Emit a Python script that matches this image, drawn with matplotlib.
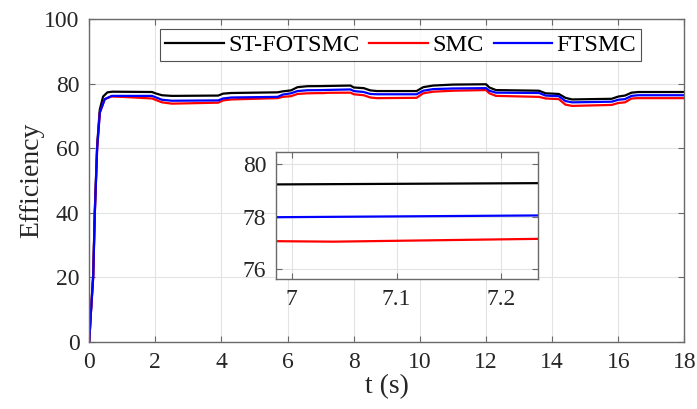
import numpy as np
import matplotlib
matplotlib.use("Agg")
import matplotlib.pyplot as plt

plt.rcParams['font.family'] = ['Liberation Serif', 'DejaVu Serif']

# efficiency traces of the three controllers (time in s, efficiency)
t_st = [0, 0.05, 0.12, 0.17, 0.24, 0.32, 0.42, 0.55, 0.7, 1.9, 2.0, 2.2, 2.5, 3.9, 4.05, 4.3,
        5.7, 5.85, 6.1, 6.3, 6.6, 6.98, 7.24, 7.9, 8.0, 8.3, 8.5, 8.7, 9.9, 10.1, 10.4, 11.0,
        12.0, 12.1, 12.3, 13.6, 13.8, 14.2, 14.4, 14.6, 15.8, 16.0, 16.2, 16.4, 16.6, 18]
eff_st = [0, 9, 21, 41, 61, 72, 76, 77.3, 77.5, 77.4, 77.0, 76.4, 76.2, 76.3, 76.9, 77.1,
          77.3, 77.6, 77.9, 78.9, 79.2, 79.23, 79.28, 79.4, 78.8, 78.6, 77.9, 77.7, 77.7, 78.9, 79.4, 79.7,
          79.8, 78.8, 78.0, 77.8, 77.0, 76.8, 75.6, 75.1, 75.3, 76.0, 76.3, 77.2, 77.4, 77.4]

t_smc = [0, 0.05, 0.12, 0.17, 0.24, 0.32, 0.47, 0.68, 1.0, 1.9, 2.0, 2.2, 2.5, 3.9, 4.05, 4.3,
         5.7, 5.85, 6.1, 6.3, 6.6, 6.98, 7.04, 7.24, 7.9, 8.0, 8.3, 8.5, 8.7, 9.9, 10.1, 10.4, 11.0,
         12.0, 12.1, 12.3, 13.6, 13.8, 14.2, 14.4, 14.6, 15.8, 16.0, 16.2, 16.4, 16.6, 18]
eff_smc = [0, 9, 20, 40, 60, 71, 75.2, 76.0, 75.9, 75.4, 75.0, 74.2, 73.8, 74.1, 74.8, 75.1,
           75.5, 75.9, 76.1, 76.8, 77.0, 77.07, 77.05, 77.16, 77.2, 76.7, 76.4, 75.7, 75.5, 75.6, 77.0, 77.5, 77.8,
           78.0, 77.0, 76.2, 75.9, 75.4, 75.2, 73.5, 73.1, 73.4, 74.0, 74.2, 75.4, 75.5, 75.5]

t_ft = [0, 0.05, 0.12, 0.17, 0.24, 0.32, 0.47, 0.68, 1.9, 2.0, 2.2, 2.5, 3.9, 4.05, 4.3,
        5.7, 5.85, 6.1, 6.3, 6.6, 6.98, 7.24, 7.9, 8.0, 8.3, 8.5, 8.7, 9.9, 10.1, 10.4, 11.0,
        12.0, 12.1, 12.3, 13.6, 13.8, 14.2, 14.4, 14.6, 15.8, 16.0, 16.2, 16.4, 16.6, 18]
eff_ft = [0, 9, 20, 40, 60, 71, 75.2, 76.2, 76.2, 75.8, 75.0, 74.7, 74.8, 75.4, 75.7,
          75.9, 76.6, 77.0, 77.7, 77.95, 77.98, 78.05, 78.2, 77.7, 77.4, 76.8, 76.7, 76.7, 77.8, 78.3, 78.5,
          78.6, 77.8, 77.2, 77.1, 76.3, 76.1, 74.6, 74.2, 74.4, 75.0, 75.2, 76.2, 76.4, 76.4]

labels = ['ST-FOTSMC', 'SMC', 'FTSMC']
colors = ['black', 'red', 'blue']
series = [(t_st, eff_st), (t_smc, eff_smc), (t_ft, eff_ft)]

main_xticks = [0, 2, 4, 6, 8, 10, 12, 14, 16, 18]
main_yticks = [0, 20, 40, 60, 80, 100]
inset_xticks = [7, 7.1, 7.2]
inset_yticks = [76, 78, 80]

spine_col = '#6a6a6a'
grid_col = '#e3e3e3'
text_col = '#262626'


def style_axes(ax, fs):
    for s in ax.spines.values():
        s.set_color(spine_col)
        s.set_linewidth(1.0)
    ax.tick_params(direction='in', top=True, right=True, length=4,
                   color=spine_col, labelsize=fs, labelcolor=text_col, pad=7)
    ax.grid(True, color=grid_col, linewidth=0.8)
    ax.set_axisbelow(True)


fig = plt.figure(figsize=(6.97, 4.09), dpi=100)
ax = fig.add_axes([0.128, 0.1638, 0.854, 0.7897])

for (t, e), c, lab in zip(series, colors, labels):
    ax.plot(t, e, color=c, linewidth=1.6, label=lab)

ax.set_xlim(0, 18)
ax.set_ylim(0, 100)
ax.set_xticks(main_xticks)
ax.set_yticks(main_yticks)
style_axes(ax, 17)
ax.set_xlabel('t (s)', fontsize=20, color=text_col, labelpad=1)
ax.set_ylabel('Efficiency', fontsize=20, color=text_col, labelpad=0)

leg = ax.legend(loc='upper center', bbox_to_anchor=(0.5235, 0.968), ncol=3,
                fontsize=17.5, frameon=True, fancybox=False, handlelength=2.4,
                handletextpad=0.2, columnspacing=0.4, borderpad=0.2,
                borderaxespad=0)
leg.get_frame().set_edgecolor(text_col)
leg.get_frame().set_linewidth(0.8)

# zoomed view around t = 7 s
axin = fig.add_axes([0.396, 0.318, 0.376, 0.310])
for (t, e), c in zip(series, colors):
    axin.plot(t, e, color=c, linewidth=1.6)
axin.set_xlim(6.985, 7.235)
axin.set_ylim(75.63, 80.46)
axin.set_xticks(inset_xticks)
axin.set_xticklabels(['7', '7.1', '7.2'])
axin.set_yticks(inset_yticks)
style_axes(axin, 17)
axin.set_facecolor('white')

fig.savefig('out.png', dpi=100)
